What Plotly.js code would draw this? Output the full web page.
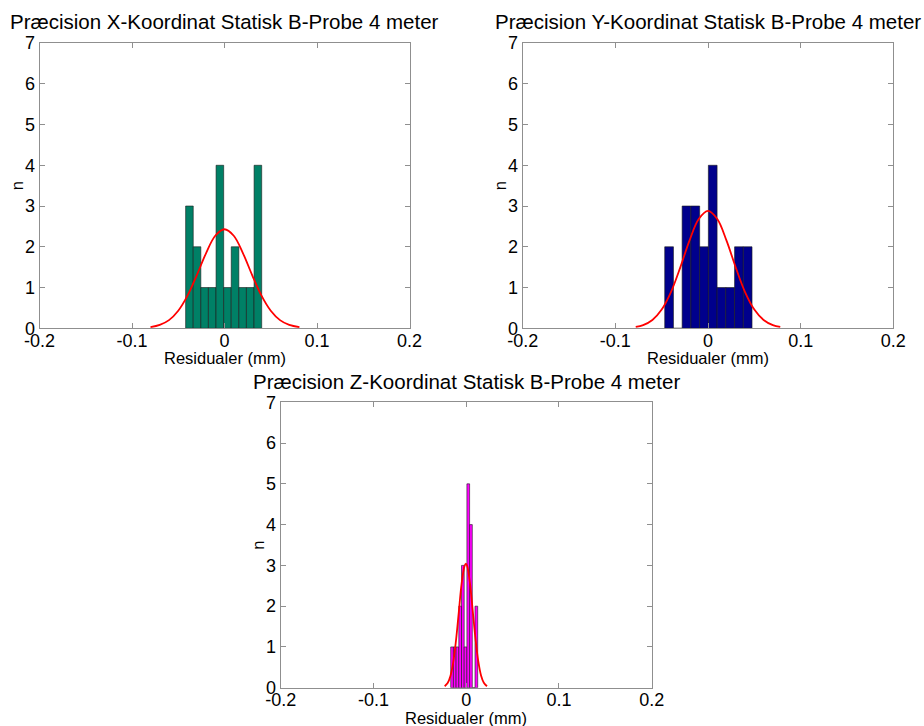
<!DOCTYPE html>
<html>
<head>
<meta charset="utf-8">
<script src="https://cdn.plot.ly/plotly-3.0.1.min.js"></script>
<style>
  html, body { margin: 0; padding: 0; background: #fff; }
  #chart { width: 924px; height: 726px; }
</style>
</head>
<body>
<div id="chart"></div>
<script>
// Histogram bin centres (mm) and counts for each coordinate
const xBinCenters = [-0.0379, -0.0297, -0.0215, -0.0133, -0.0050, 0.0032, 0.0114, 0.0196, 0.0278, 0.0361];
const xCounts     = [3, 2, 1, 1, 4, 1, 2, 1, 1, 4];
const xBinWidth   = 0.00822;

const yBinCenters = [-0.0420, -0.0326, -0.0232, -0.0137, -0.0043, 0.0051, 0.0145, 0.0239, 0.0334, 0.0428];
const yCounts     = [2, 0, 3, 3, 2, 4, 1, 1, 2, 2];
const yBinWidth   = 0.00942;

const zBinCenters = [-0.01525, -0.01234, -0.00943, -0.00652, -0.00361, -0.0007, 0.00221, 0.00512, 0.00803, 0.01094];
const zCounts     = [1, 1, 1, 2, 3, 1, 5, 4, 0, 2];
const zBinWidth   = 0.00291;

// Fitted normal curves (scaled to counts)
const xFitX = [-0.080, -0.070, -0.060, -0.050, -0.040, -0.030, -0.020, -0.010, 0.000, 0.010, 0.020, 0.030, 0.040, 0.050, 0.060, 0.070, 0.081];
const xFitY = [0.029, 0.082, 0.20, 0.43, 0.80, 1.30, 1.84, 2.27, 2.43, 2.27, 1.84, 1.30, 0.80, 0.43, 0.20, 0.082, 0.027];

const yFitX = [-0.078, -0.070, -0.060, -0.050, -0.040, -0.030, -0.020, -0.010, 0.000, 0.010, 0.020, 0.030, 0.040, 0.050, 0.060, 0.070, 0.078];
const yFitY = [0.033, 0.079, 0.205, 0.46, 0.89, 1.49, 2.15, 2.68, 2.88, 2.68, 2.15, 1.49, 0.89, 0.46, 0.205, 0.079, 0.033];

const zFitX = [-0.0232, -0.020, -0.017, -0.014, -0.011, -0.008, -0.005, -0.002, -0.0004, 0.001, 0.004, 0.007, 0.010, 0.013, 0.016, 0.019, 0.0224];
const zFitY = [0.036, 0.113, 0.287, 0.62, 1.16, 1.85, 2.54, 2.97, 3.04, 2.99, 2.57, 1.90, 1.20, 0.65, 0.30, 0.121, 0.036];

// Axis ticks
const xTickVals = [-0.2, -0.1, 0, 0.1, 0.2];
const xTickText = ['-0.2', '-0.1', '0', '0.1', '0.2'];
const yTickVals = [0, 1, 2, 3, 4, 5, 6, 7];
const yTickText = ['0', '1', '2', '3', '4', '5', '6', '7'];

const titles = [
  'Præcision X-Koordinat Statisk B-Probe 4 meter',
  'Præcision Y-Koordinat Statisk B-Probe 4 meter',
  'Præcision Z-Koordinat Statisk B-Probe 4 meter'
];
const xLabel = 'Residualer (mm)';
const yLabel = 'n';

const W = 924, H = 726;
const FONT = 'Liberation Sans, Arial, Helvetica, sans-serif';
const AXIS_GRAY = '#8f8f8f';

// Panel boxes in pixels: left, right, top, bottom
const panels = [
  {l: 39.5, r: 409.5, t: 43, b: 328.3},
  {l: 522.7, r: 893.3, t: 43, b: 328.3},
  {l: 280.7, r: 651.7, t: 402.3, b: 687.7}
];

function px2x(p) { return p / W; }
function px2y(p) { return 1 - p / H; }

function bars(cx, cnt, w, color, suffix) {
  return {
    type: 'bar', x: cx, y: cnt, width: w,
    marker: {color: color, line: {color: '#1a1a1a', width: 0.6}},
    xaxis: 'x' + suffix, yaxis: 'y' + suffix, hoverinfo: 'x+y'
  };
}
function fit(fx, fy, suffix) {
  return {
    type: 'scatter', mode: 'lines', x: fx, y: fy,
    line: {color: '#ff0000', width: 1.8, shape: 'spline', smoothing: 1},
    xaxis: 'x' + suffix, yaxis: 'y' + suffix, hoverinfo: 'skip'
  };
}

const data = [
  bars(xBinCenters, xCounts, xBinWidth, '#008066', ''),
  fit(xFitX, xFitY, ''),
  bars(yBinCenters, yCounts, yBinWidth, '#00008c', '2'),
  fit(yFitX, yFitY, '2'),
  bars(zBinCenters, zCounts, zBinWidth, '#ff00ff', '3'),
  fit(zFitX, zFitY, '3')
];

function xAxis(p, anchor) {
  return {
    domain: [px2x(p.l), px2x(p.r)], anchor: anchor,
    range: [-0.2, 0.2], tickmode: 'array', tickvals: xTickVals, ticktext: xTickText,
    ticks: 'inside', ticklen: 5, tickcolor: AXIS_GRAY, tickwidth: 1,
    showline: true, linecolor: AXIS_GRAY, linewidth: 1, mirror: 'ticks',
    showgrid: false, zeroline: false, fixedrange: true, ticklabelstandoff: -4,
    tickfont: {family: FONT, size: 18, color: '#000'}
  };
}
function yAxis(p, anchor) {
  return {
    domain: [px2y(p.b), px2y(p.t)], anchor: anchor,
    range: [0, 7], tickmode: 'array', tickvals: yTickVals, ticktext: yTickText,
    ticks: 'inside', ticklen: 5, tickcolor: AXIS_GRAY, tickwidth: 1,
    showline: true, linecolor: AXIS_GRAY, linewidth: 1, mirror: 'ticks',
    showgrid: false, zeroline: false, fixedrange: true,
    tickfont: {family: FONT, size: 18, color: '#000'}
  };
}

const annotations = [];
panels.forEach(function (p, i) {
  const cx = (p.l + p.r) / 2;
  annotations.push({
    text: titles[i], xref: 'paper', yref: 'paper',
    x: px2x(cx), y: px2y(p.t - 21), xanchor: 'center', yanchor: 'middle',
    showarrow: false, font: {family: FONT, size: 20.5, color: '#000'}
  });
  annotations.push({
    text: xLabel, xref: 'paper', yref: 'paper',
    x: px2x(cx), y: px2y(p.b + 30), xanchor: 'center', yanchor: 'middle',
    showarrow: false, font: {family: FONT, size: 16.5, color: '#000'}
  });
  annotations.push({
    text: yLabel, xref: 'paper', yref: 'paper',
    x: px2x(p.l - 23), y: px2y((p.t + p.b) / 2), xanchor: 'center', yanchor: 'middle',
    textangle: -90, showarrow: false, font: {family: FONT, size: 16.5, color: '#000'}
  });
});

const layout = {
  width: W, height: H,
  margin: {l: 0, r: 0, t: 0, b: 0},
  paper_bgcolor: '#ffffff', plot_bgcolor: '#ffffff',
  showlegend: false, barmode: 'overlay',
  font: {family: FONT, color: '#000'},
  xaxis: xAxis(panels[0], 'y'),
  yaxis: yAxis(panels[0], 'x'),
  xaxis2: xAxis(panels[1], 'y2'),
  yaxis2: yAxis(panels[1], 'x2'),
  xaxis3: xAxis(panels[2], 'y3'),
  yaxis3: yAxis(panels[2], 'x3'),
  annotations: annotations
};

Plotly.newPlot('chart', data, layout, {displayModeBar: false, staticPlot: true});
</script>
</body>
</html>
